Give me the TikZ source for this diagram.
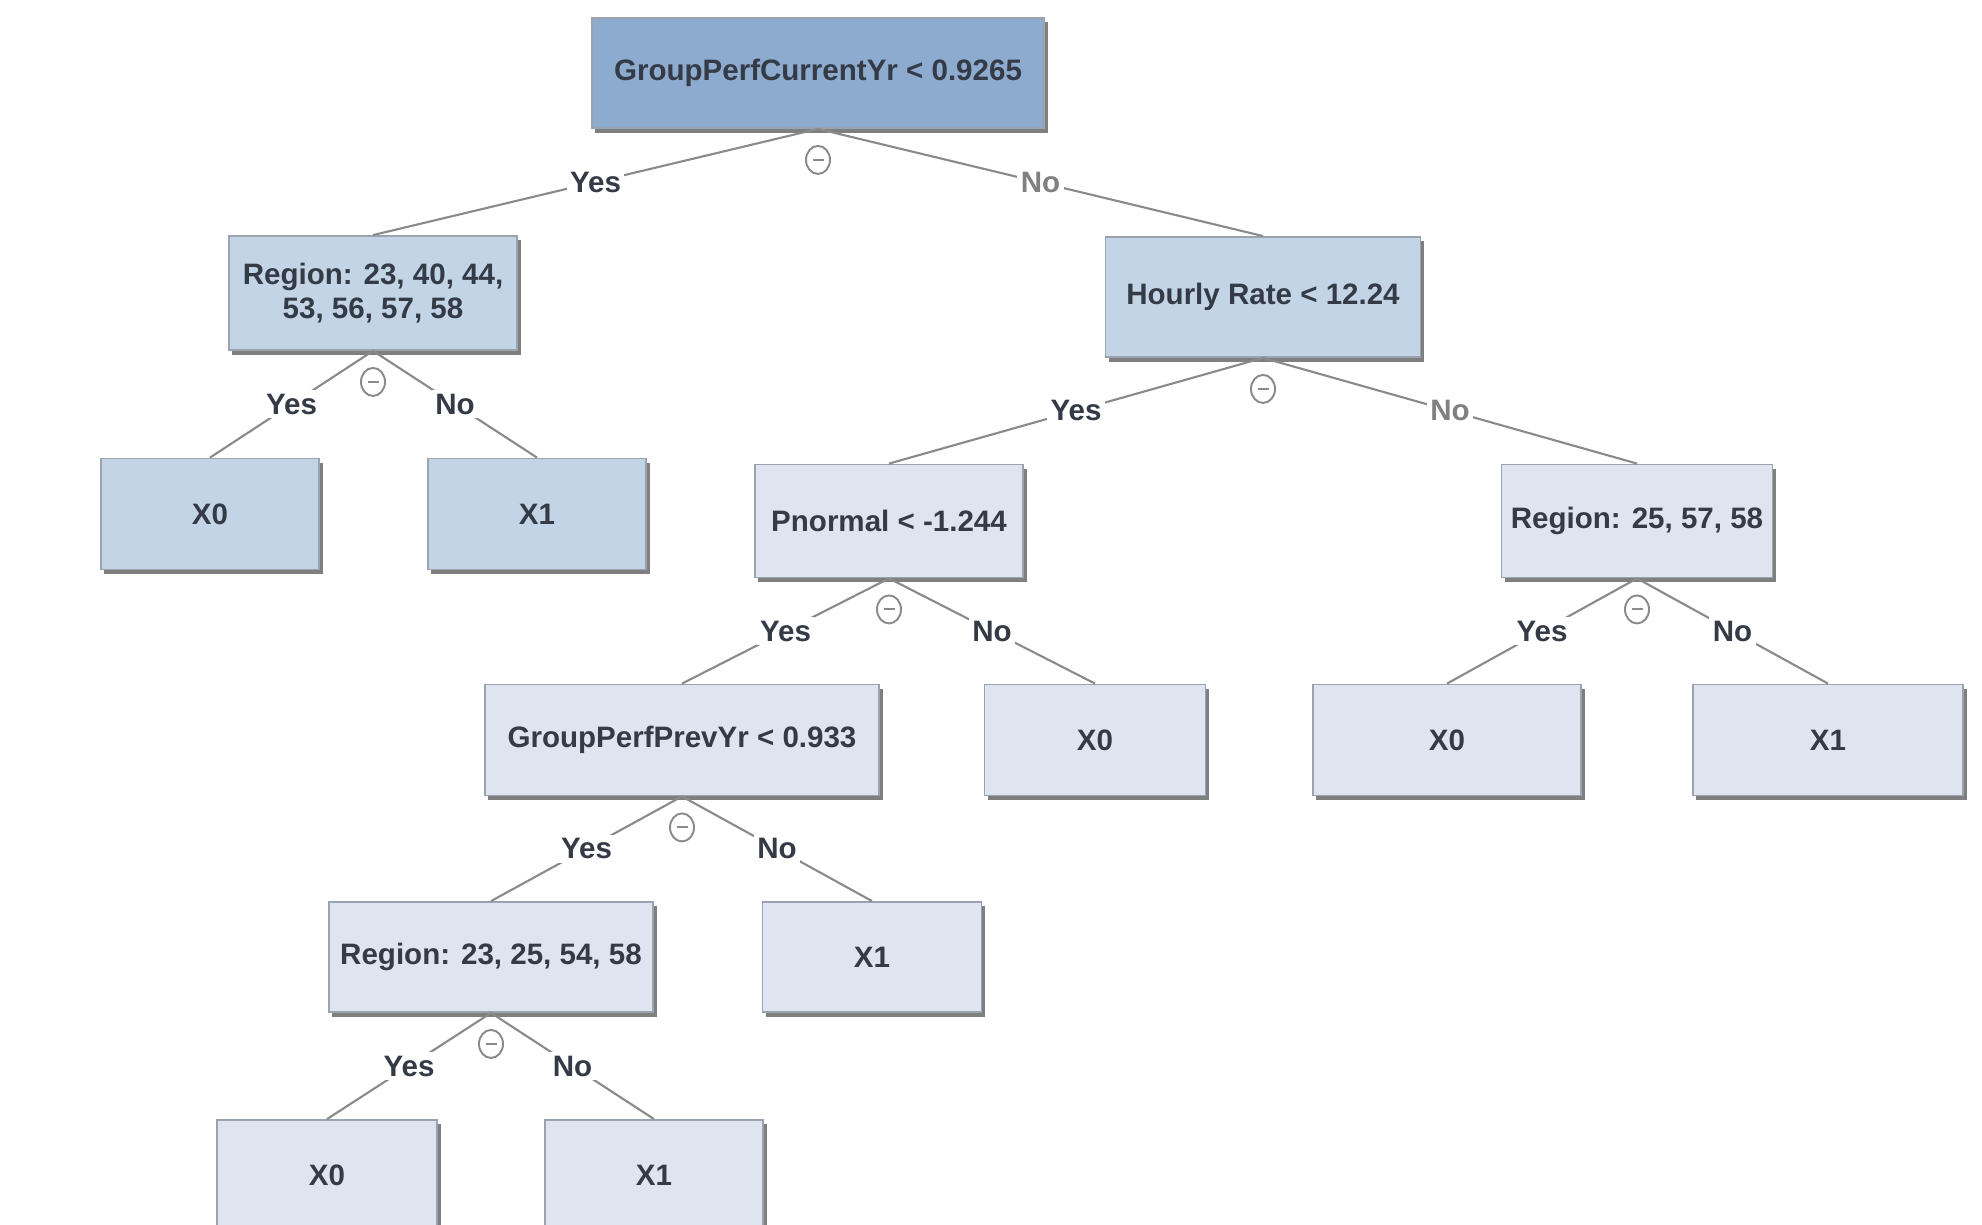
\documentclass[tikz,border=0pt]{standalone}
\usepackage{fontspec}
\setmainfont{Liberation Sans}
\usetikzlibrary{shadows,shapes.geometric}
\definecolor{rootblue}{HTML}{8DAACF}
\definecolor{midblue}{HTML}{C4D4E7}
\definecolor{lightblue}{HTML}{DEE5F0}
\definecolor{boxline}{HTML}{9AA3AE}
\definecolor{txt}{HTML}{343B47}
\definecolor{edgegray}{HTML}{8A8A8A}
\tikzset{
  box/.style={draw=boxline,line width=0.5pt,text=txt,align=center,inner sep=2pt,
    font=\bfseries\fontsize{8.4}{9.7}\selectfont,
    drop shadow={shadow xshift=0.35mm,shadow yshift=-0.45mm,fill=black,opacity=0.5}},
  edge/.style={draw=edgegray,line width=0.6pt},
  lbl/.style={fill=white,inner sep=1pt,text=txt,font=\bfseries\fontsize{8.4}{9.7}\selectfont},
  tog/.style={ellipse,draw=edgegray,line width=0.55pt,minimum width=0.24cm,minimum height=0.28cm,inner sep=0pt,
    path picture={\draw[edgegray,line width=0.55pt] ([xshift=-0.055cm]path picture bounding box.center)--([xshift=0.055cm]path picture bounding box.center);}}
}
\begin{document}
\begin{tikzpicture}[x=0.01cm,y=-0.01cm]
\useasboundingbox (0,0) rectangle (1982,1225);
\clip (0,0) rectangle (1982,1225);
\node[box,fill=rootblue,minimum width=4.52cm,minimum height=1.10cm] (root) at (818,73) {GroupPerfCurrentYr < 0.9265};
\node[box,fill=midblue,minimum width=2.88cm,minimum height=1.14cm] (reg1) at (373,293) {Region: 23, 40, 44,\\53, 56, 57, 58};
\node[box,fill=midblue,minimum width=3.15cm,minimum height=1.20cm] (hourly) at (1263,297) {Hourly Rate < 12.24};
\node[box,fill=midblue,minimum width=2.18cm,minimum height=1.11cm] (xa) at (210,514) {X0};
\node[box,fill=midblue,minimum width=2.18cm,minimum height=1.11cm] (xb) at (537,514) {X1};
\node[box,fill=lightblue,minimum width=2.68cm,minimum height=1.13cm] (pnorm) at (889,521) {Pnormal < -1.244};
\node[box,fill=lightblue,minimum width=2.71cm,minimum height=1.13cm] (reg2) at (1637,521) {Region: 25, 57, 58};
\node[box,fill=lightblue,minimum width=3.94cm,minimum height=1.11cm] (prev) at (682,740) {GroupPerfPrevYr < 0.933};
\node[box,fill=lightblue,minimum width=2.21cm,minimum height=1.11cm] (xc) at (1095,740) {X0};
\node[box,fill=lightblue,minimum width=2.68cm,minimum height=1.11cm] (xd) at (1447,740) {X0};
\node[box,fill=lightblue,minimum width=2.70cm,minimum height=1.11cm] (xe) at (1828,740) {X1};
\node[box,fill=lightblue,minimum width=3.24cm,minimum height=1.10cm] (reg3) at (491,957) {Region: 23, 25, 54, 58};
\node[box,fill=lightblue,minimum width=2.19cm,minimum height=1.10cm] (xf) at (872,957) {X1};
\node[box,fill=lightblue,minimum width=2.20cm,minimum height=1.10cm] (xg) at (327,1175) {X0};
\node[box,fill=lightblue,minimum width=2.18cm,minimum height=1.10cm] (xh) at (654,1175) {X1};

\draw[edge] (root.south) -- node[lbl]{Yes} (reg1.north);
\draw[edge] (root.south) -- node[lbl,text=gray]{No} (hourly.north);
\draw[edge] (reg1.south) -- node[lbl]{Yes} (xa.north);
\draw[edge] (reg1.south) -- node[lbl]{No} (xb.north);
\draw[edge] (hourly.south) -- node[lbl]{Yes} (pnorm.north);
\draw[edge] (hourly.south) -- node[lbl,text=gray]{No} (reg2.north);
\draw[edge] (pnorm.south) -- node[lbl]{Yes} (prev.north);
\draw[edge] (pnorm.south) -- node[lbl]{No} (xc.north);
\draw[edge] (reg2.south) -- node[lbl]{Yes} (xd.north);
\draw[edge] (reg2.south) -- node[lbl]{No} (xe.north);
\draw[edge] (prev.south) -- node[lbl]{Yes} (reg3.north);
\draw[edge] (prev.south) -- node[lbl]{No} (xf.north);
\draw[edge] (reg3.south) -- node[lbl]{Yes} (xg.north);
\draw[edge] (reg3.south) -- node[lbl]{No} (xh.north);

\foreach \n in {root,reg1,hourly,pnorm,reg2,prev,reg3}
  \node[tog] at ([yshift=-0.31cm]\n.south) {};
\end{tikzpicture}
\end{document}
